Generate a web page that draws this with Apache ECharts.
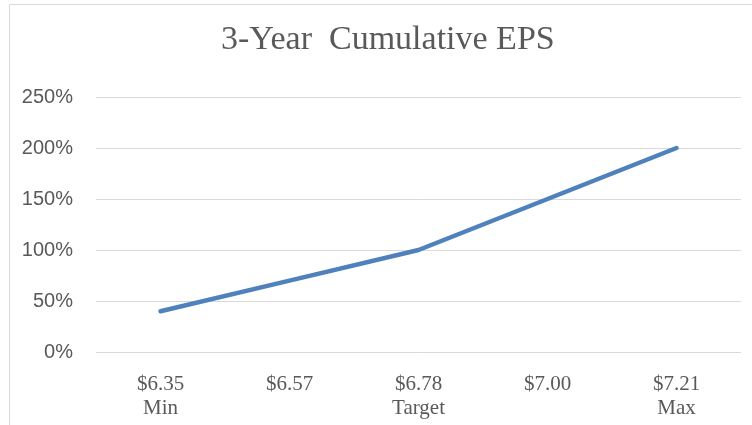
<!DOCTYPE html>
<html>
<head>
<meta charset="utf-8">
<script src="https://cdn.jsdelivr.net/npm/echarts@6/dist/echarts.min.js"></script>
<style>
  html, body { margin: 0; padding: 0; background: #fff; }
  #chart { width: 752px; height: 425px; }
</style>
</head>
<body>
<div id="chart"></div>
<script>
// EPS levels and their labels
const epsLabels = ['$6.35', '$6.57', '$6.78', '$7.00', '$7.21']
const levelNames = ['Min', '', 'Target', '', 'Max']
// cumulative payout, percent
const payout = [40, 70, 100, 150, 200]

const categories = epsLabels.map((e, i) => levelNames[i] ? e + '\n' + levelNames[i] : e)

const chart = echarts.init(document.getElementById('chart'))
chart.setOption({
  animation: false,
  title: {
    text: '3-Year  Cumulative EPS',
    left: 216,
    top: 18,
    textStyle: { fontFamily: 'Liberation Serif', fontWeight: 'normal', fontSize: 34, color: '#595959' }
  },
  graphic: [{
    type: 'rect',
    shape: { x: 9.5, y: 4.5, width: 800, height: 500 },
    style: { fill: 'none', stroke: '#d9d9d9', lineWidth: 1 },
    silent: true
  }],
  grid: { left: 96, right: 11, top: 97, bottom: 73 },
  xAxis: {
    type: 'category',
    data: categories,
    axisLine: { show: false },
    axisTick: { show: false },
    axisLabel: {
      color: '#595959', fontFamily: 'Liberation Serif', fontSize: 21,
      lineHeight: 24, margin: 20
    }
  },
  yAxis: {
    type: 'value',
    min: 0, max: 250, interval: 50,
    axisLine: { show: false },
    axisTick: { show: false },
    splitLine: { lineStyle: { color: '#d9d9d9', width: 1 } },
    axisLabel: {
      color: '#595959', fontFamily: 'Liberation Sans', fontSize: 20, margin: 23,
      formatter: v => v + '%'
    }
  },
  series: [{
    type: 'line',
    data: payout,
    symbol: 'none',
    lineStyle: { color: '#4f81bd', width: 4.5, cap: 'round' }
  }]
})
</script>
</body>
</html>
